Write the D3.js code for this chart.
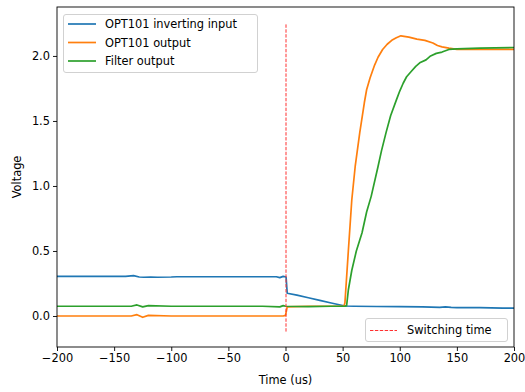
<!DOCTYPE html>
<html>
<head>
<meta charset="utf-8">
<script src="https://cdn.jsdelivr.net/npm/d3@7"></script>
<style>
  body { margin: 0; background: #fff; }
  text { font-family: "DejaVu Sans", sans-serif; fill: #000; }
</style>
</head>
<body>
<div id="chart"></div>
<script>
var inputTime = [-200, -140, -133, -128, -124, -118, -112, -100, -95, -60, -20, -8, -5, -2, 0.5, 1.5, 10, 20, 30, 40, 52, 60, 80, 100, 120, 135, 140, 145, 150, 170, 190, 200];
var inputVolt = [0.305, 0.305, 0.31, 0.30, 0.298, 0.30, 0.298, 0.30, 0.302, 0.302, 0.302, 0.302, 0.295, 0.305, 0.30, 0.175, 0.16, 0.14, 0.12, 0.10, 0.077, 0.075, 0.073, 0.072, 0.070, 0.066, 0.070, 0.067, 0.065, 0.064, 0.060, 0.060];

var outputTime = [-200, -135, -130, -125, -120, -100, -60, -20, -2, 0, 1.5, 20, 40, 51, 52, 55, 58, 61, 65, 69, 71, 74, 76, 78, 81, 85, 89, 93, 97, 101, 108, 115, 122, 129, 133, 137, 143, 150, 170, 200];
var outputVolt = [0.0, 0.0, 0.01, -0.01, 0.005, 0.0, 0.0, 0.0, 0.0, 0.005, 0.07, 0.075, 0.075, 0.075, 0.1, 0.5, 0.89, 1.15, 1.41, 1.64, 1.74, 1.83, 1.88, 1.93, 1.99, 2.05, 2.09, 2.12, 2.14, 2.155, 2.145, 2.13, 2.12, 2.10, 2.08, 2.07, 2.06, 2.05, 2.05, 2.05];

var filterTime = [-200, -135, -130, -125, -120, -100, -60, -20, -5, -2, 0, 20, 40, 52, 53.5, 55, 58, 62, 67, 71, 75, 81, 84, 88, 92, 97, 100, 103, 106, 110, 114, 118, 123, 127, 132, 137, 143, 150, 170, 200];
var filterVolt = [0.075, 0.075, 0.085, 0.07, 0.08, 0.075, 0.075, 0.075, 0.07, 0.08, 0.075, 0.072, 0.075, 0.075, 0.08, 0.2, 0.35, 0.50, 0.64, 0.80, 0.92, 1.15, 1.27, 1.41, 1.54, 1.66, 1.73, 1.79, 1.84, 1.88, 1.92, 1.95, 1.97, 2.0, 2.02, 2.03, 2.05, 2.055, 2.06, 2.065];

var seriesNames = ["OPT101 inverting input", "OPT101 output", "Filter output"];
var seriesColors = ["#1f77b4", "#ff7f0e", "#2ca02c"];
var switchTime = 0, switchRange = [-0.12, 2.25];

var xTicks = [-200, -150, -100, -50, 0, 50, 100, 150, 200];
var yTicks = [0.0, 0.5, 1.0, 1.5, 2.0];

var width = 525, height = 392,
    margin = {left: 57, right: 11, top: 7, bottom: 45};

var svg = d3.select("#chart").append("svg")
    .attr("width", width)
    .attr("height", height);

var x = d3.scaleLinear().domain([-200, 200]).range([margin.left, width - margin.right]);
var y = d3.scaleLinear().domain([-0.2385, 2.3765]).range([height - margin.bottom, margin.top]);

var line = d3.line()
    .x(function(d) { return x(d[0]); })
    .y(function(d) { return y(d[1]); });

svg.append("clipPath").attr("id", "clip")
    .append("rect")
    .attr("x", margin.left).attr("y", margin.top)
    .attr("width", width - margin.left - margin.right)
    .attr("height", height - margin.top - margin.bottom);

var plot = svg.append("g").attr("clip-path", "url(#clip)");

var series = [
    d3.zip(inputTime, inputVolt),
    d3.zip(outputTime, outputVolt),
    d3.zip(filterTime, filterVolt)
];

series.forEach(function(s, i) {
    plot.append("path")
        .datum(s)
        .attr("d", line)
        .attr("fill", "none")
        .attr("stroke", seriesColors[i])
        .attr("stroke-width", 1.7)
        .attr("stroke-linejoin", "round");
});

// switching marker, drawn as a thin rect path so it stays red
svg.append("path")
    .attr("d", "M" + (x(switchTime) + 0.5) + "," + y(switchRange[0]) + "V" + y(switchRange[1]))
    .attr("fill", "none")
    .attr("stroke", "#ff3030")
    .attr("stroke-width", 1)
    .attr("stroke-dasharray", "3.4,1.5");

// axes
var xAxis = d3.axisBottom(x).tickValues(xTicks).tickSize(4).tickPadding(3)
    .tickFormat(function(d) { return d < 0 ? "\u2212" + Math.abs(d) : d; });
var yAxis = d3.axisLeft(y).tickValues(yTicks).tickSize(4).tickPadding(3)
    .tickFormat(d3.format(".1f"));

var gx = svg.append("g")
    .attr("transform", "translate(0," + (height - margin.bottom) + ")")
    .call(xAxis);
var gy = svg.append("g")
    .attr("transform", "translate(" + margin.left + ",0)")
    .call(yAxis);

[gx, gy].forEach(function(g) {
    g.select(".domain").remove();
    g.selectAll(".tick line").attr("stroke", "#000").attr("stroke-width", 0.9);
    g.selectAll(".tick text").style("font-size", "11.4px").attr("fill", "#000");
});

svg.append("rect")
    .attr("x", margin.left).attr("y", margin.top)
    .attr("width", width - margin.left - margin.right)
    .attr("height", height - margin.top - margin.bottom)
    .attr("fill", "none")
    .attr("stroke", "#000")
    .attr("stroke-width", 0.9);

svg.append("text")
    .attr("x", (margin.left + width - margin.right) / 2)
    .attr("y", 384)
    .attr("text-anchor", "middle")
    .style("font-size", "11.4px")
    .text("Time (us)");

svg.append("text")
    .attr("transform", "translate(21," + ((margin.top + height - margin.bottom) / 2) + ") rotate(-90)")
    .attr("text-anchor", "middle")
    .style("font-size", "11.4px")
    .text("Voltage");

// legends
var legend = svg.append("g");
legend.append("rect")
    .attr("x", 63.5).attr("y", 14.5)
    .attr("width", 194).attr("height", 58)
    .attr("rx", 2.5)
    .attr("fill", "#fff").attr("fill-opacity", 0.8)
    .attr("stroke", "#ccc").attr("stroke-width", 0.9);

seriesNames.forEach(function(name, i) {
    var ly = 24 + i * 18.5;
    legend.append("line")
        .attr("x1", 68).attr("x2", 96)
        .attr("y1", ly).attr("y2", ly)
        .attr("stroke", seriesColors[i])
        .attr("stroke-width", 1.7);
    legend.append("text")
        .attr("x", 105).attr("y", ly + 4)
        .style("font-size", "11.4px")
        .text(name);
});

var legend2 = svg.append("g");
legend2.append("rect")
    .attr("x", 365.5).attr("y", 318.5)
    .attr("width", 142).attr("height", 23)
    .attr("rx", 2.5)
    .attr("fill", "#fff").attr("fill-opacity", 0.8)
    .attr("stroke", "#ccc").attr("stroke-width", 0.9);
legend2.append("line")
    .attr("x1", 370).attr("x2", 397)
    .attr("y1", 330.5).attr("y2", 330.5)
    .attr("stroke", "#ff3030")
    .attr("stroke-width", 1)
    .attr("stroke-dasharray", "3.4,1.5");
legend2.append("text")
    .attr("x", 407).attr("y", 334)
    .style("font-size", "11.4px")
    .text("Switching time");
</script>
</body>
</html>
